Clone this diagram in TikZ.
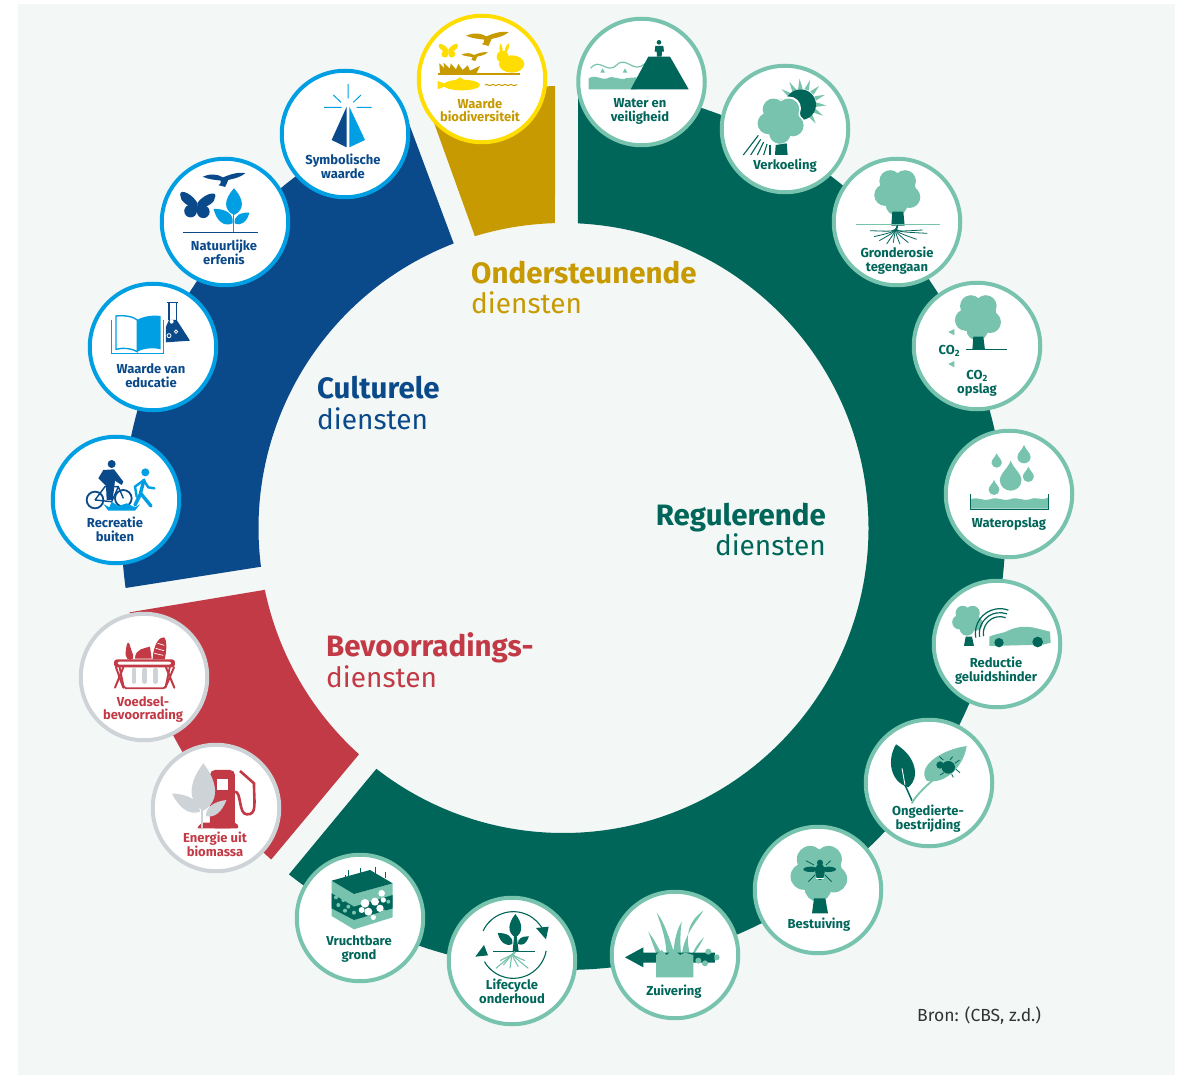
\documentclass[tikz,border=0pt]{standalone}
\usepackage{fontspec}
\setmainfont{Fira Sans}
\usetikzlibrary{decorations.pathmorphing}
\definecolor{paper}{HTML}{F3F7F5}
\definecolor{dgreen}{HTML}{00665A}
\definecolor{lgreen}{HTML}{78C3AE}
\definecolor{dgold}{HTML}{C69A00}
\definecolor{yellow2}{HTML}{FFDD00}
\definecolor{dblue}{HTML}{0A4A8A}
\definecolor{lblue}{HTML}{009FE3}
\definecolor{dred}{HTML}{C23A46}
\definecolor{lgrey}{HTML}{CDD3D6}
\tikzset{
    disc/.style={circle, fill=white, draw=#1, line width=4pt, minimum size=126.5pt, inner sep=0pt},
    lab/.style={font=\fontsize{13}{13.6}\selectfont\bfseries, align=center, inner sep=0pt, text depth=3pt, yshift=-2pt, text=#1},
    big/.style={font=\fontsize{29.5}{32}\selectfont\bfseries, inner sep=0pt, text=#1},
    thin/.style={font=\fontsize{28}{30}\selectfont, inner sep=0pt, text=#1},
    crop/.style 2 args={shift={(#1,#2)}, x=0.33333pt, y=-0.33333pt},
}
\newcommand{\crown}[4]{
    \fill[#1] (#2,#3) circle[radius=0.85*#4];
    \foreach \a in {25,95,165,235,305} {\fill[#1] (#2,#3) ++(\a:0.6*#4) circle[radius=0.5*#4];}
}
\newcommand{\bird}[4]{
    \fill[#1, shift={(#2,#3)}, scale=#4] (-1,0.02) .. controls (-.6,-.15) and (-.3,-.1) .. (-.05,.05) .. controls (.2,-.05) and (.6,-.22) .. (1,-.15) .. controls (.7,.1) and (.35,.12) .. (.2,.17) .. controls (.15,.3) and (.1,.4) .. (.05,.5) .. controls (-.05,.45) and (-.15,.45) .. (-.25,.42) .. controls (-.15,.35) and (-.15,.3) .. (-.15,.2) .. controls (-.4,.17) and (-.7,.15) .. cycle;
}
\newcommand{\butterfly}[5]{
    \begin{scope}[shift={(#2,#3)}, rotate=#5, scale=#4]
        \foreach \s in {1,-1} {
            \fill[#1] (0,-.05) .. controls ({\s*.25},-.5) and ({\s*1},-.85) .. ({\s*1},-.5) .. controls ({\s*1},-.1) and ({\s*.6},.1) .. (0,.35) -- cycle;
            \fill[#1] ({\s*.36},.42) circle[radius=.36];
        }
    \end{scope}
}
\newcommand{\leaf}[6]{
    \fill[#1, shift={(#2,#3)}, rotate=#4, xscale=#5, yscale=#5*#6] (0,0) .. controls (.2,.4) and (.6,.35) .. (1,0) .. controls (.6,-.35) and (.2,-.4) .. (0,0) -- cycle;
}
\newcommand{\waterdrop}[4]{
    \fill[#1, shift={(#2,#3)}, scale=#4] (0,0) .. controls (.08,.25) and (.36,.42) .. (.36,.66) .. controls (.36,.86) and (.18,1) .. (0,1) .. controls (-.18,1) and (-.36,.86) .. (-.36,.66) .. controls (-.36,.42) and (-.08,.25) .. cycle;
}
\begin{document}
\begin{tikzpicture}[x=1pt, y=-1pt]
    \useasboundingbox (0,0) rectangle (1179,1075);
    \fill[paper] (18,4) rectangle (1175,1075);

    \begin{scope}[shift={(563.5,528)}]
        \fill[dgreen] (271.9:442) arc[start angle=271.9, end angle=488.4, radius=442] -- (487.85:305) arc[start angle=487.85, end angle=272.7, radius=305] -- cycle;
        \fill[dgold] (252.2:442) arc[start angle=252.2, end angle=268.9, radius=442] -- (268.4:305) arc[start angle=268.4, end angle=253.1, radius=305] -- cycle;
        \fill[dblue] (172.2:442) arc[start angle=172.2, end angle=249.1, radius=442] -- (248.9:305) arc[start angle=248.9, end angle=172.7, radius=305] -- cycle;
        \fill[dred] (131.4:442) arc[start angle=131.4, end angle=169, radius=442] -- (168.3:305) arc[start angle=168.3, end angle=132.1, radius=305] -- cycle;
    \end{scope}

    \node[big=dgold, anchor=base west] (ond) at (471,284) {Ondersteunende};
    \node[thin=dgold, anchor=base west] (ondb) at (471,314) {diensten};
    \node[big=dblue, anchor=base west] (cul) at (317,399) {Culturele};
    \node[thin=dblue, anchor=base west] (culb) at (317,430) {diensten};
    \node[big=dgreen, anchor=base east] (reg) at (826,525.5) {Regulerende};
    \node[thin=dgreen, anchor=base east] (regb) at (826,555.5) {diensten};
    \node[big=dred, anchor=base west] (bev) at (326,656) {Bevoorradings-};
    \node[thin=dred, anchor=base west] (bevb) at (326,687) {diensten};
    \node[anchor=base west, inner sep=0pt, font=\fontsize{17.5}{20}\selectfont, text=black!80] (bron) at (917,1021) {Bron: (CBS, z.d.)};

    \node[disc=yellow2] (bio) at (482,79) {};
    \node[disc=lgreen] (wat) at (641.5,82) {};
    \node[disc=lgreen] (koe) at (785,129) {};
    \node[disc=lgreen] (ero) at (897,222) {};
    \node[disc=lgreen] (opc) at (977,346) {};
    \node[disc=lgreen] (ops) at (1009,494) {};
    \node[disc=lgreen] (gel) at (997,644) {};
    \node[disc=lgreen] (ong) at (929,783) {};
    \node[disc=lgreen] (bes) at (818,890) {};
    \node[disc=lgreen] (zui) at (675,955) {};
    \node[disc=lgreen] (lif) at (512,961) {};
    \node[disc=lgreen] (vru) at (360,918) {};
    \node[disc=lgrey] (ene) at (216,808) {};
    \node[disc=lgrey] (voe) at (144,677) {};
    \node[disc=lblue] (rec) at (116,500) {};
    \node[disc=lblue] (edu) at (153,347) {};
    \node[disc=lblue] (erf) at (225,222) {};
    \node[disc=lblue] (sym) at (345,134) {};

    \node[lab=dgold] (biot) at (480,109.5) {Waarde\\biodiversiteit};
    \node[lab=dgreen] (watt) at (640,109.5) {Water en\\veiligheid};
    \node[lab=dgreen] (koet) at (785,164) {Verkoeling};
    \node[lab=dgreen] (erot) at (897,258.5) {Gronderosie\\tegengaan};
    \node[lab=dgreen] (opct) at (977,381.5) {CO\textsubscript{2}\\opslag};
    \node[lab=dgreen] (opst) at (1009,522) {Wateropslag};
    \node[lab=dgreen] (gelt) at (996,669) {Reductie\\geluidshinder};
    \node[lab=dgreen] (ongt) at (928,817) {Ongedierte-\\bestrijding};
    \node[lab=dgreen] (best) at (819,923) {Bestuiving};
    \node[lab=dgreen] (zuit) at (674,990) {Zuivering};
    \node[lab=dgreen] (lift) at (512,991) {Lifecycle\\onderhoud};
    \node[lab=dgreen] (vrut) at (359,947) {Vruchtbare\\grond};
    \node[lab=dred] (enet) at (215,843.5) {Energie uit\\biomassa};
    \node[lab=dred] (voet) at (143,707.5) {Voedsel-\\bevoorrading};
    \node[lab=dblue] (rect) at (115,529) {Recreatie\\buiten};
    \node[lab=dblue] (edut) at (151,375) {Waarde van\\educatie};
    \node[lab=dblue] (erft) at (224,251.5) {Natuurlijke\\erfenis};
    \node[lab=dblue] (symt) at (343,166) {Symbolische\\waarde};

    % biodiversiteit en water
    \begin{scope}[crop={400}{0}]
        \bird{dgold}{262}{106}{64}
        \bird{dgold}{224}{163}{40}
        \butterfly{yellow2}{145}{150}{29}{0}
        \fill[yellow2] (335,192) ellipse[x radius=38, y radius=26];
        \fill[yellow2] (308,170) circle[radius=18];
        \leaf{yellow2}{304}{158}{95}{28}{.6}
        \leaf{yellow2}{316}{158}{70}{30}{.6}
        \fill[dgold] (120,222) -- (118,190) -- (134,206) -- (130,188) -- (150,206) -- (152,190) -- (168,208) -- (175,192) -- (188,210) -- (203,196) -- (210,212) -- (240,198) -- (228,222) -- cycle;
        \draw[dgold, line width=1.5pt] (113,222) -- (360,222);
        \fill[yellow2] (185,255) ellipse[x radius=55, y radius=16];
        \fill[yellow2] (165,242) -- (180,232) -- (195,242) -- cycle;
        \fill[yellow2] (113,243) -- (145,255) -- (113,268) -- cycle;
        \draw[dgold, line width=1pt, decorate, decoration={snake, amplitude=.6pt, segment length=6pt}] (255,255) -- (352,255);

        \fill[lgreen] (566,268) -- (566,235) .. controls (590,222) and (600,240) .. (620,236) .. controls (640,222) and (660,245) .. (680,234) -- (710,232) -- (710,268) -- cycle;
        \draw[lgreen, line width=1.2pt] (572,205) .. controls (600,170) and (620,225) .. (650,195) .. controls (680,165) and (700,225) .. (735,190);
        \fill[lgreen] (601,218) -- (608,205) -- (615,218) -- cycle;
        \fill[lgreen] (668,218) -- (675,205) -- (682,218) -- cycle;
        \fill[dgreen] (692,268) -- (745,170) -- (810,170) -- (866,268) -- cycle;
        \fill[dgreen] (777,127) circle[radius=7];
        \fill[dgreen] (766,138) -- (790,138) -- (792,155) -- (786,155) -- (785,170) -- (771,170) -- (770,155) -- (764,155) -- cycle;
    \end{scope}

    % bomen rechtsboven
    \begin{scope}[crop={720}{60}]
        \begin{scope}[shift={(245,130)}]
            \foreach \a in {190,215,...,415} {\fill[lgreen] (\a-9:44) -- (\a:74) -- (\a+9:44) -- cycle;}
            \fill[dgreen] (-3,4) circle[radius=46];
        \end{scope}
        \crown{white}{183}{180}{71}
        \crown{lgreen}{183}{180}{65}
        \fill[dgreen] (167,255) -- (200,250) -- (203,285) -- (165,285) -- cycle;
        \foreach \x/\y/\u/\v in {115/226/70/285, 122/238/92/285, 131/246/112/285, 141/252/131/285, 150/254/150/285} {\draw[dgreen, line width=1.1pt] (\x,\y) -- (\u,\v);}

        \crown{lgreen}{533}{395}{65}
        \fill[dgreen] (517,455) -- (550,455) -- (554,497) -- (514,497) -- cycle;
        \draw[lgreen, line width=1pt] (408,495) -- (660,495);
        \foreach \x/\y in {450/512, 462/530, 478/542, 500/552, 520/548, 540/553, 565/548, 590/538, 622/520, 608/510} {\draw[dgreen, line width=.8pt] (533,497) .. controls (525,515) .. (\x,\y);}

        \crown{lgreen}{775}{770}{65}
        \fill[dgreen] (760,830) -- (790,830) -- (795,870) -- (757,870) -- cycle;
        \draw[dgreen, line width=1pt] (737,870) -- (862,870);
        \node[lab=dgreen, anchor=center] (opci) at (688,868) {CO\textsubscript{2}};
        \fill[lgreen] (685,816) -- (703,807) -- (703,826) -- cycle;
        \fill[lgreen] (685,912) -- (703,903) -- (703,922) -- cycle;
    \end{scope}

    % wateropslag en geluid
    \begin{scope}[crop={900}{420}]
        \waterdrop{lgreen}{332}{122}{90}
        \waterdrop{lgreen}{290}{100}{43}
        \waterdrop{lgreen}{372}{75}{55}
        \waterdrop{lgreen}{385}{140}{46}
        \waterdrop{lgreen}{282}{180}{45}
        \fill[lgreen] (212,266) -- (212,238) .. controls (235,228) and (245,245) .. (270,238) .. controls (295,228) and (305,245) .. (330,238) .. controls (355,228) and (365,245) .. (390,238) .. controls (410,228) and (425,245) .. (445,232) -- (445,266) -- cycle;
        \draw[dgreen, line width=1pt] (212,222) -- (212,269) -- (445,269) -- (445,222);

        \crown{lgreen}{203}{600}{43}
        \fill[dgreen] (197,650) -- (216,650) -- (222,678) -- (192,678) -- cycle;
        \foreach \r in {50,62,74} {\draw[dgreen, line width=1.2pt] (300,640) ++(170:\r) arc[start angle=170, end angle=290, radius=\r];}
        \fill[lgreen] (268,678) -- (268,650) .. controls (290,640) and (310,640) .. (325,632) .. controls (350,618) and (385,618) .. (410,625) -- (450,635) -- (452,668) -- (430,674) -- cycle;
        \fill[dgreen] (297,668) circle[radius=14];
        \fill[dgreen] (413,666) circle[radius=16];
    \end{scope}

    % ongedierte en bestuiving
    \begin{scope}[crop={740}{710}]
        \fill[dgreen] (468,103) .. controls (530,140) and (540,205) .. (505,232) .. controls (450,215) and (440,150) .. cycle;
        \draw[white, line width=.9pt] (486,175) -- (495,225);
        \draw[dgreen, line width=1.5pt] (495,225) -- (516,272);
        \fill[lgreen] (680,108) .. controls (670,175) and (610,225) .. (560,212) .. controls (530,170) and (600,120) .. cycle;
        \draw[lgreen, line width=1.8pt] (515,280) .. controls (530,255) and (550,235) .. (585,205);
        \fill[dgreen] (625,172) ellipse[x radius=20, y radius=19];
        \fill[dgreen] (600,165) circle[radius=11];
        \foreach \x/\y/\u/\v in {610/150/598/140, 630/150/638/140, 645/160/658/150, 648/178/660/188, 635/192/640/202, 612/188/600/195} {\draw[dgreen, line width=.8pt] (\x,\y) -- (\u,\v);}

        \crown{lgreen}{238}{487}{80}
        \fill[dgreen] (222,565) -- (256,565) -- (264,610) -- (216,610) -- cycle;
        \fill[dgreen] (212,478) ellipse[x radius=22, y radius=8];
        \fill[dgreen] (266,478) ellipse[x radius=22, y radius=8];
        \fill[dgreen] (240,485) ellipse[x radius=14, y radius=25];
        \fill[dgreen] (240,458) circle[radius=9];
        \foreach \x/\u/\y/\v in {225/205/495/515, 255/275/495/515, 222/198/465/452, 258/272/465/452} {\draw[dgreen, line width=.8pt] (\x,\y) -- (\u,\v);}
        \draw[white, line width=.7pt] (228,505) -- (252,505);
    \end{scope}

    % onderkant
    \begin{scope}[crop={280}{840}]
        \foreach \x/\u/\y in {1130/1165/218, 1270/1210/212, 1105/1140/275, 1272/1225/292} {\fill[lgreen] (\x,\y) .. controls ({\x+(\u-\x)*.7},{\y+30}) and (\u,{\y+70}) .. ({\u+25},360) -- ({\u-5},360) .. controls ({\u-5},{\y+80}) and ({\x+(\u-\x)*.4},{\y+40}) .. cycle;}
        \fill[lgreen] (1205,245) .. controls (1185,280) and (1180,320) .. (1180,360) -- (1205,360) .. controls (1200,320) and (1200,280) .. cycle;
        \fill[dgreen] (1035,352) -- (1090,322) -- (1090,338) -- (1305,338) -- (1305,368) -- (1090,368) -- (1090,382) -- cycle;
        \fill[lgreen] (1128,412) -- (1128,345) -- (1145,330) -- (1160,345) -- (1180,328) -- (1200,345) -- (1215,338) -- (1240,345) -- (1240,412) -- cycle;
        \foreach \x/\y in {1285/335, 1255/362, 1310/352, 1275/370} {\fill[lgreen] (\x,\y) circle[radius=9];}
        \foreach \x/\y in {1273/352, 1298/352} {\fill[dgreen] (\x,\y) circle[radius=6];}

        \draw[dgreen, line width=1.1pt] (700,315) ++(205:100) arc[start angle=205, end angle=335, radius=100];
        \draw[dgreen, line width=1.1pt] (700,315) ++(10:100) arc[start angle=10, end angle=150, radius=100];
        \fill[dgreen] (768,264) -- (806,260) -- (798,298) -- cycle;
        \fill[dgreen] (612,315) -- (586,350) -- (624,346) -- cycle;
        \draw[dgreen, line width=1.2pt] (640,334) -- (765,334);
        \fill[dgreen] (698,334) -- (703,280) -- (709,280) -- (716,334) -- cycle;
        \leaf{dgreen}{706}{292}{90}{70}{.9}
        \leaf{dgreen}{697}{312}{143}{55}{.9}
        \leaf{dgreen}{714}{312}{35}{40}{.9}
        \foreach \x/\y in {648/385, 670/375, 690/385, 715/380, 745/385, 735/362, 660/362} {\draw[lgreen, line width=1.1pt] (705,336) .. controls (695,345) .. (\x,\y);}

        \foreach \x/\y in {195/105, 205/90, 240/85, 275/100, 285/80, 315/95} {\draw[dgreen, line width=.9pt] (\x,115) -- (\x,\y);}
        \fill[lgreen] (155,122) -- (155,228) -- (222,268) -- (338,232) -- (338,130) -- (222,162) -- cycle;
        \fill[dgreen] (155,160) -- (222,200) -- (338,165) -- (338,205) -- (222,240) -- (155,205) -- cycle;
        \fill[dgreen] (155,122) -- (270,90) -- (338,130) -- (222,162) -- cycle;
        \foreach \x/\y in {168/172, 190/180, 175/195, 205/200, 195/212, 222/218, 325/185, 312/215} {\fill[lgreen] (\x,\y) circle[radius=6];}
        \foreach \x/\y/\r in {255/190/13, 285/185/12, 305/160/10, 265/215/12, 245/210/9, 300/205/11, 280/232/8, 310/180/8} {\fill[white] (\x,\y) circle[radius=\r];}
    \end{scope}

    % bevoorrading
    \begin{scope}[crop={60}{580}]
        \fill[dred, rounded corners=5pt] (197,240) -- (197,205) -- (205,180) -- (212,205) -- (225,240) -- cycle;
        \fill[dred] (225,236) .. controls (225,205) and (255,205) .. (270,200) -- (275,236) -- cycle;
        \fill[dred] (278,238) .. controls (280,190) and (300,170) .. (312,172) .. controls (322,180) and (320,215) .. (314,238) -- cycle;
        \draw[white, line width=.7pt] (293,190) -- (313,196) (287,205) -- (312,212) (283,220) -- (310,226);
        \fill[dred, rounded corners=3pt] (162,238) rectangle (345,262);
        \fill[white, rounded corners=2pt] (173,245) rectangle (333,254);
        \draw[dred, line width=1.8pt, rounded corners=2pt] (178,258) -- (192,325) -- (316,325) -- (330,258);
        \foreach \x in {222,254,287} {\draw[lgrey, line width=4.5pt, line cap=round] (\x,270) -- (\x,305);}
        \foreach \x/\u in {168/190, 190/165, 318/343, 342/316} {\draw[dred, line width=2pt, line cap=round] (\x,262) -- (\u,323);}

        \fill[dred, rounded corners=5pt] (450,745) -- (450,570) -- (525,570) -- (525,745) -- cycle;
        \fill[white] (472,596) rectangle (505,630);
        \fill[dred, rounded corners=2pt] (410,745) -- (425,728) -- (530,728) -- (537,745) -- cycle;
        \draw[dred, line width=2.6pt] (525,635) .. controls (545,635) and (535,702) .. (560,703) .. controls (592,705) and (582,670) .. (582,610) -- (540,573);
        \draw[white, line width=1pt] (425,745) -- (425,620);
        \leaf{lgrey}{430}{692}{90}{142}{.88}
        \leaf{lgrey}{420}{695}{147}{100}{.7}
        \leaf{lgrey}{438}{708}{38}{78}{.7}
        \draw[lgrey, line width=2pt] (425,745) -- (425,620);
    \end{scope}

    % recreatie en educatie
    \begin{scope}[crop={40}{270}]
        \fill[dblue] (215,582) circle[radius=12];
        \fill[dblue] (190,600) -- (222,598) -- (250,635) -- (245,645) -- (225,632) -- (218,690) -- (200,690) -- (198,648) -- (175,625) -- cycle;
        \draw[dblue, line width=1.8pt] (165,690) circle[radius=25] (250,685) circle[radius=25];
        \draw[dblue, line width=1.4pt] (165,690) -- (195,650) -- (235,650) -- (250,685) (165,690) -- (215,695) -- (235,650);
        \fill[lblue] (316,607) circle[radius=12];
        \draw[lblue, line width=3.4pt, line cap=round] (312,630) -- (300,675) -- (285,705) (302,670) -- (333,708);
        \draw[lblue, line width=2.4pt, line cap=round] (312,630) -- (285,650) -- (290,680) (312,632) -- (325,652) -- (343,655);
        \fill[lblue] (190,702) -- (208,712) -- (215,695) -- (235,708) -- (260,700) -- (285,712) -- (300,703) -- (285,722) -- (205,722) -- cycle;

        \draw[lblue, line width=1.2pt] (215,150) -- (215,250) -- (370,250) -- (370,150);
        \draw[lblue, line width=1.4pt, fill=white] (228,138) .. controls (255,135) and (280,140) .. (292,150) -- (292,245) .. controls (275,235) and (250,232) .. (228,238) -- cycle;
        \fill[lblue] (292,150) .. controls (310,138) and (340,135) .. (362,138) -- (362,238) .. controls (340,232) and (310,235) .. (292,245) -- cycle;
        \draw[dblue, line width=1.2pt] (380,98) -- (415,98) (387,98) -- (387,150) (410,98) -- (410,150);
        \fill[dblue] (387,150) -- (410,150) -- (450,212) -- (378,217) -- (378,170) -- cycle;
        \fill[white] (395,155) circle[radius=6];
        \draw[white, line width=.8pt] (387,197) circle[radius=6] (408,185) circle[radius=5];
    \end{scope}

    % erfenis en symboliek
    \begin{scope}[crop={150}{60}]
        \bird{dblue}{222}{349}{64}
        \butterfly{dblue}{142}{432}{53}{-3}
        \draw[lblue, line width=1.5pt] (250,515) -- (250,455);
        \leaf{lblue}{252}{465}{90}{80}{1.05}
        \leaf{lblue}{248}{490}{143}{72}{.9}
        \leaf{lblue}{254}{490}{36}{55}{.9}
        \draw[dblue, line width=1.2pt] (98,517) -- (324,517);

        \fill[dblue] (590,140) -- (545,240) -- (590,262) -- cycle;
        \fill[lblue] (598,140) -- (645,240) -- (598,262) -- cycle;
        \draw[lblue, line width=1pt] (594,72) -- (594,115) (550,105) -- (573,127) (633,105) -- (610,127) (522,142) -- (575,142) (620,142) -- (665,142);
    \end{scope}
\end{tikzpicture}
\end{document}
